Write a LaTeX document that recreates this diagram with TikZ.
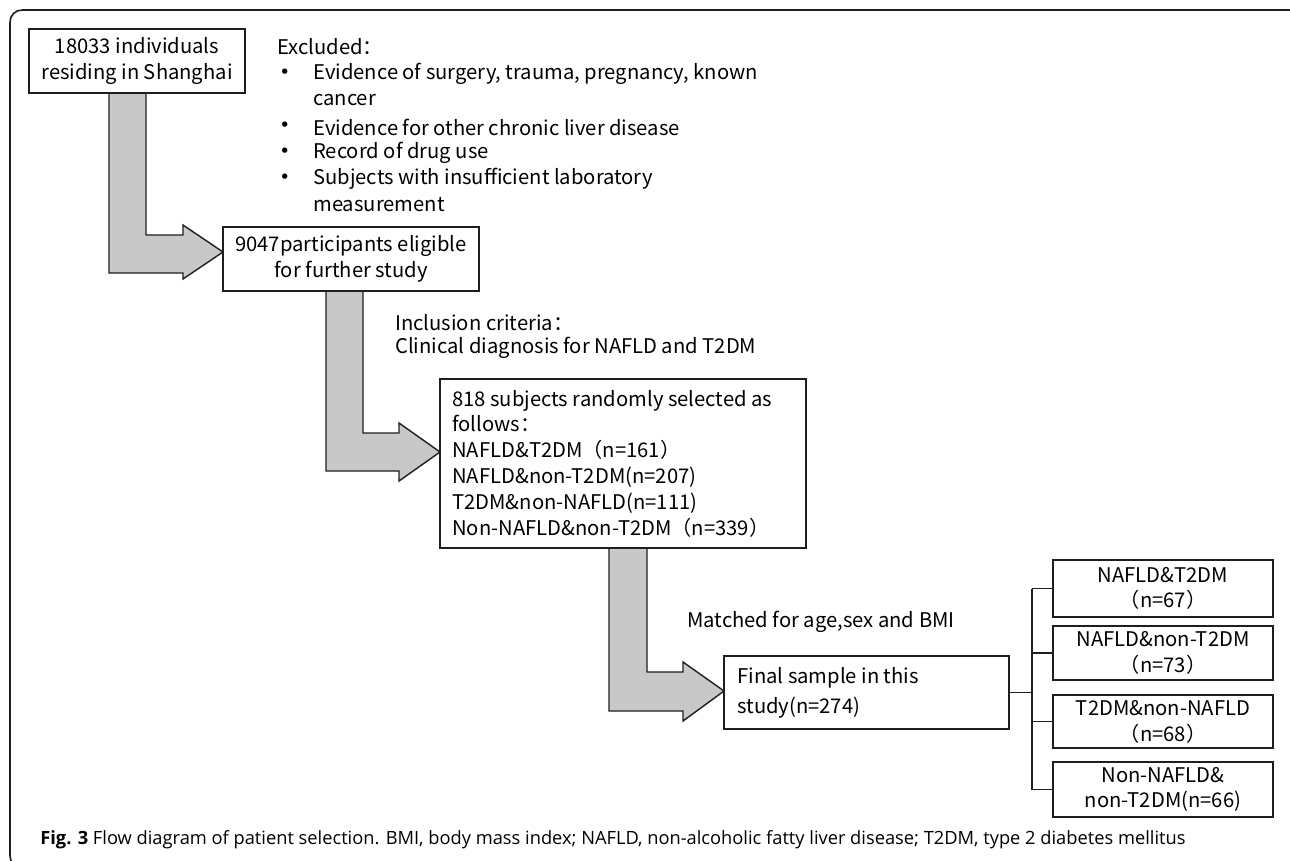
\documentclass[tikz,border=0pt]{standalone}
\usepackage{fontspec}
\setmainfont{Noto Sans CJK SC}
\newfontfamily\capfont{Open Sans}
\newfontfamily\bulfont{DejaVu Sans}
\definecolor{arrowgray}{RGB}{200,200,200}
\definecolor{linec}{RGB}{30,30,30}
\begin{document}
\begin{tikzpicture}[x=0.02cm,y=-0.02cm,
  box/.style={draw=linec, line width=0.8pt, fill=white, inner sep=0pt, align=center,
    font=\fontsize{11.5}{14.7}\selectfont},
  blk/.style={draw=linec, line width=0.8pt, fill=arrowgray, line join=miter},
  txt/.style={inner sep=0pt, anchor=west, align=left, font=\fontsize{11.5}{14.7}\selectfont},
  conn/.style={draw=linec, line width=0.8pt}]
\useasboundingbox (0,0) rectangle (1290,860);
\clip (0,0) rectangle (1290,860);
\draw[line width=0.9pt, draw=linec, rounded corners=0.24cm] (10,10) rectangle (1302,868);

% block arrows
\draw[blk] (109,93) -- (109,273) -- (183,273) -- (183,279) -- (223,252) -- (183,225) -- (183,235) -- (146,235) -- (146,93) -- cycle;
\draw[blk] (326,291) -- (326,471) -- (399,471) -- (399,481) -- (440,452) -- (399,423) -- (399,433) -- (363,433) -- (363,291) -- cycle;
\draw[blk] (609,548) -- (609,711) -- (683,711) -- (683,721) -- (724,691) -- (683,662) -- (683,672) -- (647,672) -- (647,548) -- cycle;

% boxes
\node[box, minimum width=4.32cm, minimum height=1.28cm] (b1) at (137,61) {18033 individuals\\residing in Shanghai};
\node[box, minimum width=5.12cm, minimum height=1.28cm] (b2) at (351,259) {9047participants eligible\\for further study};
\node[box, minimum width=7.32cm, minimum height=3.38cm] (b3) at (623,463.5) {};
\node[txt] (b3t) at (452,463.5)
  {818 subjects randomly selected as\\follows：\\NAFLD\&T2DM（n=161）\\NAFLD\&non-T2DM(n=207)\\T2DM\&non-NAFLD(n=111)\\Non-NAFLD\&non-T2DM（n=339）};
\node[box, minimum width=5.70cm, minimum height=1.46cm] (fin) at (866.5,692.5) {};
\node[txt, font=\fontsize{11.5}{17}\selectfont] (fint) at (737,692.5) {Final sample in this\\study(n=274)};
\node[box, minimum width=4.40cm, minimum height=1.14cm] (ra) at (1163,588.5) {NAFLD\&T2DM\\（n=67）};
\node[box, minimum width=4.40cm, minimum height=1.08cm] (rb) at (1163,653) {NAFLD\&non-T2DM\\（n=73）};
\node[box, minimum width=4.40cm, minimum height=1.06cm] (rc) at (1163,721.5) {T2DM\&non-NAFLD\\（n=68）};
\node[box, minimum width=4.40cm, minimum height=1.10cm] (rd) at (1163,789.5) {Non-NAFLD\&\\non-T2DM(n=66)};

% tree connector
\coordinate (jx) at (1032,692.5);
\draw[conn] (fin.east) -- (jx);
\draw[conn] (jx |- ra.west) -- (jx |- rd.west);
\foreach \n in {ra,rb,rc,rd} \draw[conn] (jx |- \n.west) -- (\n.west);

% excluded text
\node[txt] (ex0) at (277,47) {Excluded：};
\foreach \i/\y/\t in {1/74/{Evidence of surgery, trauma, pregnancy, known},2/100/cancer,3/127/{Evidence for other chronic liver disease},4/153/{Record of drug use},5/179/{Subjects with insufficient laboratory},6/205/measurement}
  \node[txt] (ex\i) at (313,\y) {\t};
\foreach \i/\y in {1/74,3/127,4/153,5/179}
  \node[txt, font=\bulfont\fontsize{10.5}{12}\selectfont] (bu\i) at (279,\y) {•};

% inclusion and matched text
\node[txt] (in1) at (395,323) {Inclusion criteria：};
\node[txt] (in2) at (395,348) {Clinical diagnosis for NAFLD and T2DM};
\node[txt] (mt) at (687,622) {Matched for age,sex and BMI};

% caption
\node[inner sep=0pt, anchor=west, font=\capfont\fontsize{10.4}{12}\selectfont] (cap) at (40,840)
  {\textbf{Fig. 3} Flow diagram of patient selection. BMI, body mass index; NAFLD, non-alcoholic fatty liver disease; T2DM, type 2 diabetes mellitus};
\end{tikzpicture}
\end{document}
